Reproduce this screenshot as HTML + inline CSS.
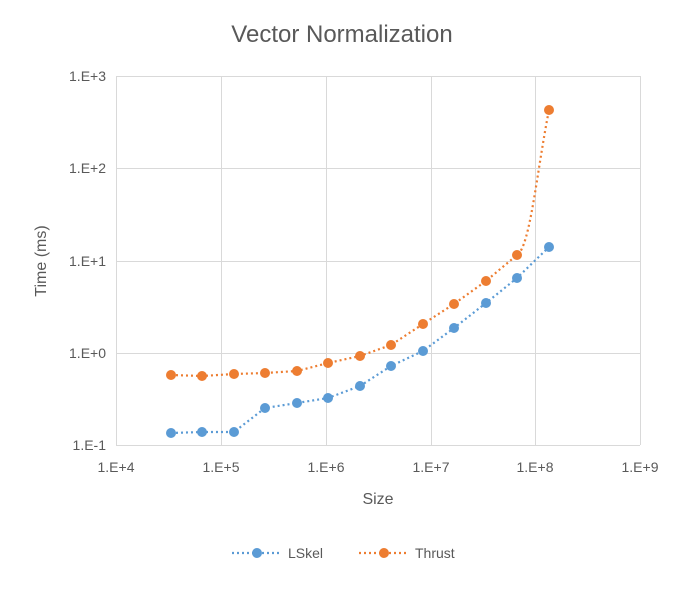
<!DOCTYPE html>
<html><head><meta charset="utf-8"><style>body{margin:0;background:#fff}</style></head><body>
<svg width="684" height="585" xmlns="http://www.w3.org/2000/svg" font-family="Liberation Sans, sans-serif">
<rect width="684" height="585" fill="#fff"/>
<text x="342" y="42" text-anchor="middle" font-size="24" fill="#595959">Vector Normalization</text>
<g stroke="#d9d9d9" stroke-width="1">
<line x1="116" y1="76.5" x2="640" y2="76.5"/><line x1="116" y1="168.5" x2="640" y2="168.5"/><line x1="116" y1="261.5" x2="640" y2="261.5"/><line x1="116" y1="353.5" x2="640" y2="353.5"/><line x1="116" y1="445.5" x2="640" y2="445.5"/>
<line x1="116.5" y1="76" x2="116.5" y2="445"/><line x1="221.5" y1="76" x2="221.5" y2="445"/><line x1="326.5" y1="76" x2="326.5" y2="445"/><line x1="431.5" y1="76" x2="431.5" y2="445"/><line x1="535.5" y1="76" x2="535.5" y2="445"/><line x1="640.5" y1="76" x2="640.5" y2="445"/>
</g>
<g font-size="14" fill="#595959" text-anchor="end">
<text x="106" y="81">1.E+3</text><text x="106" y="173">1.E+2</text><text x="106" y="266">1.E+1</text><text x="106" y="358">1.E+0</text><text x="106" y="450">1.E-1</text>
</g>
<g font-size="14" fill="#595959" text-anchor="middle">
<text x="116" y="472">1.E+4</text><text x="221" y="472">1.E+5</text><text x="326" y="472">1.E+6</text><text x="431" y="472">1.E+7</text><text x="535" y="472">1.E+8</text><text x="640" y="472">1.E+9</text>
<text x="378" y="504" font-size="16">Size</text>
</g>
<text transform="translate(46,261) rotate(-90)" text-anchor="middle" font-size="16" fill="#595959">Time (ms)</text>
<polyline fill="none" stroke="#5b9bd5" stroke-width="2.2" stroke-dasharray="2,3" points="171,433 202,432 234,432 265,408 297,403 328,398 360,386 391,366 423,351 454,328 486,303 517,278 549,247"/>
<path fill="none" stroke="#ed7d31" stroke-width="2.2" stroke-dasharray="2,3" d="M171,375 L202,376 L234,374 L265,373 L297,371 L328,363 L360,356 L391,345 L423,324 L454,304 L486,281 L517,255 C530,248 537,170 549,110"/>
<g fill="#5b9bd5">
<circle cx="171" cy="433" r="5"/><circle cx="202" cy="432" r="5"/><circle cx="234" cy="432" r="5"/><circle cx="265" cy="408" r="5"/><circle cx="297" cy="403" r="5"/><circle cx="328" cy="398" r="5"/><circle cx="360" cy="386" r="5"/><circle cx="391" cy="366" r="5"/><circle cx="423" cy="351" r="5"/><circle cx="454" cy="328" r="5"/><circle cx="486" cy="303" r="5"/><circle cx="517" cy="278" r="5"/><circle cx="549" cy="247" r="5"/>
</g>
<g fill="#ed7d31">
<circle cx="171" cy="375" r="5"/><circle cx="202" cy="376" r="5"/><circle cx="234" cy="374" r="5"/><circle cx="265" cy="373" r="5"/><circle cx="297" cy="371" r="5"/><circle cx="328" cy="363" r="5"/><circle cx="360" cy="356" r="5"/><circle cx="391" cy="345" r="5"/><circle cx="423" cy="324" r="5"/><circle cx="454" cy="304" r="5"/><circle cx="486" cy="281" r="5"/><circle cx="517" cy="255" r="5"/><circle cx="549" cy="110" r="5"/>
</g>
<line x1="232" y1="553" x2="282" y2="553" stroke="#5b9bd5" stroke-width="2.2" stroke-dasharray="2,3"/><circle cx="257" cy="553" r="5" fill="#5b9bd5"/>
<text x="288" y="558" font-size="14" fill="#595959">LSkel</text>
<line x1="359" y1="553" x2="409" y2="553" stroke="#ed7d31" stroke-width="2.2" stroke-dasharray="2,3"/><circle cx="384" cy="553" r="5" fill="#ed7d31"/>
<text x="415" y="558" font-size="14" fill="#595959">Thrust</text>
</svg>
</body></html>
